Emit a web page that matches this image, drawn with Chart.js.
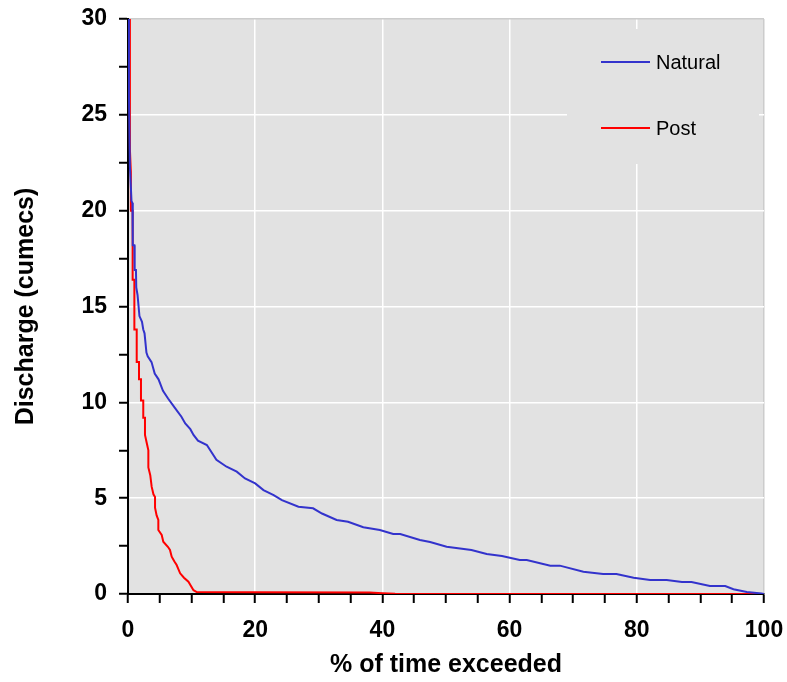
<!DOCTYPE html>
<html>
<head>
<meta charset="utf-8">
<script src="https://cdn.jsdelivr.net/npm/chart.js@4.4.1/dist/chart.umd.min.js"></script>
<style>
  html, body { margin: 0; padding: 0; background: #fff; }
  #wrap { width: 787px; height: 682px; }
</style>
</head>
<body>
<div id="wrap"><canvas id="chart"></canvas></div>
<script>
// flow duration curves, [% of time exceeded, discharge]
const natural = [
  [0, 31], [0.15, 26], [0.3, 22.3], [0.55, 20.5], [0.7, 20.4], [0.75, 18.2], [1.0, 18.2],
  [1.05, 16.9], [1.25, 16.9], [1.3, 16.0], [1.5, 15.6], [1.8, 14.5], [2.2, 14.2], [2.4, 13.8],
  [2.6, 13.6], [2.9, 12.6], [3.1, 12.4], [3.7, 12.1], [4.2, 11.5], [4.8, 11.2], [5.5, 10.6],
  [6.3, 10.2], [7.4, 9.7], [8.4, 9.25], [9.0, 8.9], [9.8, 8.6], [10.3, 8.3], [11.0, 8.0],
  [12.4, 7.77], [13.9, 7.0], [15.5, 6.64], [17.1, 6.38], [18.4, 6.03], [20.0, 5.77],
  [21.3, 5.42], [22.9, 5.16], [24.2, 4.9], [26.8, 4.55], [29.1, 4.47], [30.5, 4.2],
  [32.8, 3.86], [34.6, 3.77], [37.0, 3.48], [39.6, 3.34], [41.7, 3.13], [42.8, 3.13],
  [45.9, 2.82], [47.5, 2.71], [50.1, 2.47], [54.0, 2.30], [56.4, 2.09], [58.8, 1.98],
  [61.6, 1.77], [62.7, 1.77], [66.4, 1.48], [67.9, 1.48], [71.6, 1.16], [74.7, 1.04],
  [76.8, 1.04], [79.5, 0.85], [82.1, 0.73], [84.7, 0.73], [87.1, 0.63], [88.6, 0.63],
  [91.5, 0.42], [93.9, 0.42], [95.2, 0.25], [97.3, 0.1], [99.6, 0.03], [100, 0]
];
const post = [
  [0.25, 31], [0.3, 23.2], [0.45, 22], [0.45, 20], [0.73, 20], [0.73, 16.4], [1.0, 16.4],
  [1.0, 13.8], [1.37, 13.8], [1.37, 12.1], [1.73, 12.1], [1.73, 11.2], [2.04, 11.2],
  [2.04, 10.1], [2.4, 10.1], [2.4, 9.2], [2.67, 9.2], [2.67, 8.3], [3.0, 7.8], [3.2, 7.5],
  [3.2, 6.6], [3.5, 6.2], [3.72, 5.6], [4.0, 5.2], [4.25, 5.06], [4.25, 4.5], [4.5, 4.1],
  [4.77, 3.86], [4.77, 3.34], [5.3, 3.08], [5.55, 2.73], [6.3, 2.45], [6.6, 2.3],
  [6.87, 1.95], [7.3, 1.7], [7.65, 1.51], [8.2, 1.08], [8.8, 0.85], [9.5, 0.64],
  [10.3, 0.2], [10.8, 0.1], [20, 0.09], [38, 0.08], [40, 0.04], [42, 0.01], [100, 0]
];
const seriesNames = ['Natural', 'Post'];
const seriesColors = ['#3333cc', '#ff0000'];
const xLabelEvery = 20;   // labelled x ticks, minor every 5
const yLabelEvery = 5;    // labelled y ticks, minor every 2.5

const FONT = "'Liberation Sans', Arial, sans-serif";

// grey plot background
const plotBg = {
  id: 'plotBg',
  beforeDraw(chart) {
    const { ctx, chartArea: a } = chart;
    ctx.save();
    ctx.fillStyle = '#e2e2e2';
    ctx.fillRect(a.left, a.top, a.right - a.left, a.bottom - a.top);
    ctx.restore();
  }
};

// legend box inside the plot, top right
const innerLegend = {
  id: 'innerLegend',
  afterDatasetsDraw(chart) {
    const { ctx, chartArea: a } = chart;
    const bx = a.right - 197, by = a.top + 10;
    ctx.save();
    ctx.fillStyle = '#e2e2e2';
    ctx.fillRect(bx, by, 192, 135);
    ctx.font = '20px ' + FONT;
    ctx.textBaseline = 'middle';
    chart.data.datasets.forEach((ds, i) => {
      const y = a.top + 43 + i * 66;
      ctx.strokeStyle = ds.borderColor;
      ctx.lineWidth = 2;
      ctx.beginPath();
      ctx.moveTo(bx + 34, y);
      ctx.lineTo(bx + 83, y);
      ctx.stroke();
      ctx.fillStyle = '#000';
      ctx.fillText(ds.label, bx + 89, y + 1);
    });
    ctx.restore();
  }
};

// let labels overhang the margins instead of shrinking the plot
const noLabelPad = scale => {
  scale.paddingLeft = 0;
  scale.paddingRight = 0;
  scale.paddingTop = 0;
  scale.paddingBottom = 0;
};

const toXY = arr => arr.map(p => ({ x: p[0], y: p[1] }));

new Chart(document.getElementById('chart'), {
  type: 'line',
  data: {
    datasets: [
      { label: seriesNames[0], data: toXY(natural), borderColor: seriesColors[0], borderWidth: 2 },
      { label: seriesNames[1], data: toXY(post), borderColor: seriesColors[1], borderWidth: 2 }
    ]
  },
  options: {
    responsive: true,
    maintainAspectRatio: false,
    animation: false,
    layout: { padding: { top: 19, right: 23, left: 0, bottom: 0 } },
    elements: { point: { radius: 0 }, line: { tension: 0 } },
    plugins: { legend: { display: false }, tooltip: { enabled: false } },
    scales: {
      x: {
        type: 'linear',
        min: 0,
        max: 100,
        afterFit(scale) { scale.height = 88; noLabelPad(scale); },
        ticks: {
          stepSize: 5,
          color: '#000',
          padding: 14,
          maxRotation: 0,
          autoSkip: false,
          font: { family: FONT, size: 23, weight: 'bold' },
          callback: v => (v % xLabelEvery === 0 ? v : '')
        },
        grid: {
          color: c => {
            const v = c.tick.value;
            if (v === 0) return 'rgba(0,0,0,0)';
            if (v === 100) return '#cccccc';
            return v % xLabelEvery === 0 ? '#ffffff' : 'rgba(0,0,0,0)';
          },
          lineWidth: 1.5,
          tickColor: '#000',
          tickLength: 9,
          tickWidth: 2
        },
        border: { color: '#000', width: 2 },
        title: {
          display: true,
          text: '% of time exceeded',
          color: '#000',
          font: { family: FONT, size: 25, weight: 'bold' },
          padding: { top: 0, bottom: 2 }
        }
      },
      y: {
        min: 0,
        max: 30,
        afterFit(scale) { scale.width = 128; noLabelPad(scale); },
        ticks: {
          stepSize: 2.5,
          color: '#000',
          padding: 12,
          autoSkip: false,
          font: { family: FONT, size: 23, weight: 'bold' },
          callback: v => (v % yLabelEvery === 0 ? v : '')
        },
        grid: {
          color: c => {
            const v = c.tick.value;
            if (v === 0) return 'rgba(0,0,0,0)';
            if (v === 30) return '#cccccc';
            return v % yLabelEvery === 0 ? '#ffffff' : 'rgba(0,0,0,0)';
          },
          lineWidth: 1.5,
          tickColor: '#000',
          tickLength: 9,
          tickWidth: 2
        },
        border: { color: '#000', width: 2 },
        title: {
          display: true,
          text: 'Discharge (cumecs)',
          color: '#000',
          font: { family: FONT, size: 25, weight: 'bold' },
          padding: { top: 11, bottom: 0 }
        }
      }
    }
  },
  plugins: [plotBg, innerLegend]
});
</script>
</body>
</html>
